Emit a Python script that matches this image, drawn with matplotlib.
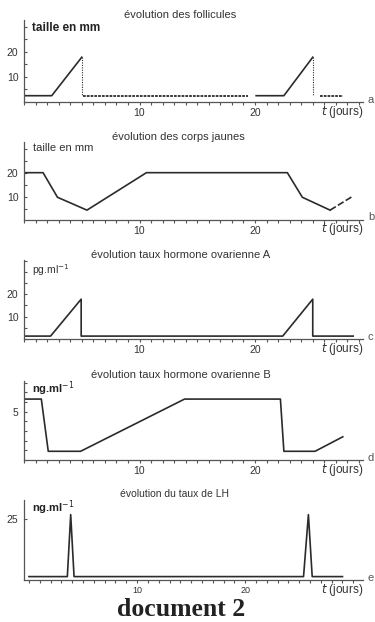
import matplotlib
matplotlib.use("Agg")
import matplotlib.pyplot as plt
from matplotlib.ticker import MultipleLocator

plt.rcParams['font.family'] = ['Liberation Sans', 'DejaVu Sans']

# follicules (taille en mm)
foll_j = [0, 2.4, 5.0]
foll_v = [2.4, 2.4, 17.8]
foll_j2 = [20.1, 22.5, 25.0]
foll_v2 = [2.4, 2.4, 17.8]
foll_pointilles = [(5.0, 19.4), (25.5, 27.6)]   # repos, en pointillés
foll_niveau = 2.4

# corps jaunes (taille en mm)
cj_j = [0, 1.65, 2.9, 5.45, 10.6, 22.8, 24.1, 26.5]
cj_v = [20, 20, 9.75, 4.4, 20, 20, 9.75, 4.4]
cj_fin_j = [26.5, 28.4]
cj_fin_v = [4.4, 10]

# hormone ovarienne A (pg/ml)
hA_j = [0, 2.3, 4.95, 4.95, 22.4, 25.0, 25.0, 28.5]
hA_v = [1.3, 1.3, 17.8, 1.3, 1.3, 17.8, 1.3, 1.3]

# hormone ovarienne B (ng/ml)
hB_j = [0, 1.5, 2.1, 4.9, 13.9, 22.2, 22.5, 25.2, 27.6]
hB_v = [6.3, 6.3, 0.9, 0.9, 6.3, 6.3, 0.9, 0.9, 2.4]

# LH (ng/ml)
lh_j = [0, 3.55, 3.86, 4.17, 25.4, 25.85, 26.2, 29.0]
lh_v = [1.4, 1.4, 26.9, 1.4, 1.4, 26.9, 1.4, 1.4]

W, H = 375, 622
fig = plt.figure(figsize=(W / 100, H / 100), dpi=100)
fig.patch.set_facecolor('white')

ink = '#2b2b2b'
axe = '#555555'


def fx(px):
    return px / W


def fy(py):
    return 1 - py / H


def panneau(top, base, xlim, ylim, yticks, yminor, lettre):
    ax = fig.add_axes([fx(24), fy(base), fx(363 - 24), (base - top) / H])
    ax.set_xlim(*xlim)
    ax.set_ylim(*ylim)
    for s in ['top', 'right']:
        ax.spines[s].set_visible(False)
    for s in ['left', 'bottom']:
        ax.spines[s].set_color(axe)
        ax.spines[s].set_linewidth(0.9)
    ax.set_xticks([10, 20])
    ax.set_xticklabels(['10', '20'])
    ax.xaxis.set_minor_locator(MultipleLocator(1))
    ax.set_yticks(yticks)
    ax.set_yticklabels([str(t) for t in yticks])
    if yminor:
        ax.yaxis.set_minor_locator(MultipleLocator(yminor))
    ax.tick_params(axis='x', which='both', direction='out', length=2.5, width=0.8,
                   color=axe, labelsize=7.5, pad=2, labelcolor='#333333')
    ax.tick_params(axis='y', which='both', direction='in', length=2, width=0.8,
                   color=axe, labelsize=7.5, pad=4, labelcolor='#333333')
    ax.patch.set_alpha(0)
    fig.text(fx(321), fy(base + 10), r'$t$ (jours)', fontsize=8.5, color='#333333',
             va='center', ha='left')
    fig.text(fx(368), fy(base - 2), lettre, fontsize=8, color='#555555',
             va='center', ha='left')
    return ax


# 1. follicules
ax1 = panneau(20, 101.7, (0, 29.35), (0, 32.7), [10, 20], 5, 'a')
ax1.plot(foll_j, foll_v, color=ink, lw=1.2)
ax1.plot(foll_j2, foll_v2, color=ink, lw=1.2)
ax1.plot([foll_j[-1], foll_j[-1]], [foll_v[-1], foll_niveau], color=ink, lw=0.8, ls=(0, (1, 1.2)))
ax1.plot([foll_j2[-1], foll_j2[-1]], [foll_v2[-1], foll_niveau], color=ink, lw=0.8, ls=(0, (1, 1.2)))
for a, b in foll_pointilles:
    ax1.plot([a + 0.1, b], [foll_niveau, foll_niveau], color=ink, lw=1.3, ls=(0, (1.5, 0.6)))
fig.text(fx(180), fy(15), 'évolution des follicules', fontsize=8, ha='center', va='center', color='#333333')
fig.text(fx(32), fy(28), 'taille en mm', fontsize=8.5, ha='left', va='center', color='#222222', weight='bold')

# 2. corps jaunes
ax2 = panneau(141.7, 219.5, (0, 29.35), (0.5, 32.9), [10, 20], 5, 'b')
ax2.plot(cj_j, cj_v, color=ink, lw=1.2)
ax2.plot(cj_fin_j, cj_fin_v, color=ink, lw=1.2, ls=(0, (4, 1.5)))
fig.text(fx(178), fy(137), 'évolution des corps jaunes', fontsize=8, ha='center', va='center', color='#333333')
fig.text(fx(33), fy(148), 'taille en mm', fontsize=8, ha='left', va='center', color='#333333')

# 3. hormone A
ax3 = panneau(260, 339, (0, 29.35), (0, 35.3), [10, 20], 5, 'c')
ax3.plot(hA_j, hA_v, color=ink, lw=1.2)
fig.text(fx(181), fy(255), 'évolution taux hormone ovarienne A', fontsize=8, ha='center', va='center', color='#333333')
fig.text(fx(32), fy(270), r'pg.ml$^{-1}$', fontsize=7.5, ha='left', va='center', color='#333333')

# 4. hormone B
ax4 = panneau(380.7, 460, (0, 29.35), (0, 8.2), [5], 1, 'd')
ax4.plot(hB_j, hB_v, color=ink, lw=1.2)
fig.text(fx(181), fy(375), 'évolution taux hormone ovarienne B', fontsize=8, ha='center', va='center', color='#333333')
fig.text(fx(32), fy(389), r'ng.ml$^{-1}$', fontsize=8, ha='left', va='center', color='#222222', weight='bold')

# 5. LH
ax5 = panneau(500, 580, (-0.46, 30.9), (0, 32.9), [25], None, 'e')
ax5.plot(lh_j, lh_v, color=ink, lw=1.2)
ax5.tick_params(axis='x', labelsize=6.5)
fig.text(fx(175), fy(494), 'évolution du taux de LH', fontsize=7.5, ha='center', va='center', color='#333333')
fig.text(fx(32), fy(508), r'ng.ml$^{-1}$', fontsize=8, ha='left', va='center', color='#222222', weight='bold')

fig.text(fx(181), fy(609), 'document 2', fontsize=18.5, ha='center', va='center',
         family='Liberation Serif', weight='bold', color='#222222')

fig.savefig('out.png', dpi=100)
